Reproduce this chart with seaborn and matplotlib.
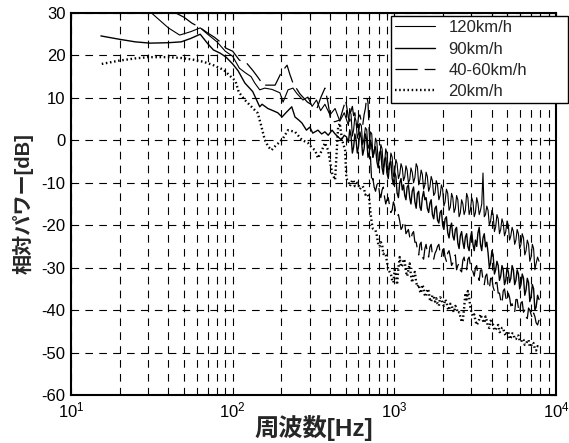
import pandas as pd
import seaborn as sns
import matplotlib
matplotlib.use("Agg")
import matplotlib.pyplot as plt

# --- data (frequency in Hz, relative power in dB) ---
# low band, each curve has its own points
freq_lo_120 = [15, 20, 25, 30, 40, 47, 55, 63, 70, 80, 90, 100, 110, 120, 130, 137, 147, 158, 175, 196,
               205, 220, 236, 250, 272, 292, 310, 330, 350, 372, 400, 430, 460, 490]
db_lo_120 = [40, 36, 33, 30.7, 26.5, 24.8, 25.6, 26.5, 25, 23.2, 21, 19.8, 17, 15.9, 15, 13.5, 11.9, 12.3, 12, 11.2,
             9.0, 11.9, 12.3, 11, 9.5, 10.2, 8, 9.5, 7, 8.5, 6, 7.5, 4.5, 6.5]

freq_lo_90 = [15.3, 20, 25, 30.8, 40, 48, 55, 63, 70, 76, 84, 91, 100, 108, 119, 133, 147, 152, 165, 175,
              190, 202, 216, 232, 243, 256, 268, 286, 300, 313, 337, 355, 372, 390, 412, 430, 449, 470, 490, 506]
db_lo_90 = [24.6, 23.8, 23.2, 22.9, 23, 23.2, 24, 25, 22.8, 21.3, 20.5, 19.6, 18, 16.4, 13.5, 11.5, 7.9, 8.5, 7.5, 7.1,
            6.5, 5.5, 6.7, 7.9, 5.5, 4.8, 4.1, 2.4, 3.1, 1.7, 2.4, 1.5, 2.0, 1.2, 2.4, 1.5, 0.8, 0.1, 1.2, 0.8]

freq_lo_4060 = [15, 25, 35, 41, 50, 56, 62, 70, 77, 85, 91, 100, 110, 122, 133, 143, 155, 170, 183, 200,
                217, 226, 236, 260, 290, 333, 350, 372, 389, 405, 430, 460, 500]
db_lo_4060 = [42, 36, 32, 30.7, 29, 27.6, 26.7, 25.3, 24.3, 23, 21.7, 21, 18.9, 18.2, 16.5, 14.9, 13, 13, 13, 16,
              17.7, 15.5, 13.5, 11, 9, 7.6, 10, 12.3, 8.8, 4.4, 4.4, 4.8, 9.5]

freq_lo_20 = [15.5, 20, 25, 30, 40, 48, 57, 66, 75, 88, 98, 104, 109, 119, 130, 143, 150, 158, 166, 174,
              185, 202, 220, 243, 268, 292, 310, 323, 337, 357, 372, 389, 412, 430, 449, 460, 475, 496, 505]
db_lo_20 = [18, 18.8, 19.3, 19.6, 19.6, 19.4, 19, 18.5, 17.8, 16.6, 14.9, 14, 11.4, 9.5, 8, 6.4, 3.5, 0.1, -1.5, -2.3,
            -1.2, 0.1, 2.4, 2.0, 0.1, -0.6, -1.8, -2.3, -4.2, -2.3, -0.6, -2.3, -7.7, -9.3, 3.1, 4, 0.1, -2.3, -9]

# high band, shared frequency bins
freq_hi = [520, 540, 560, 580, 600, 625, 650, 675, 700, 725,
           750, 780, 810, 840, 870, 900, 935, 970, 1005, 1040,
           1080, 1120, 1160, 1200, 1245, 1290, 1340, 1390, 1440, 1490,
           1545, 1600, 1660, 1720, 1785, 1850, 1920, 1990, 2060, 2140,
           2220, 2300, 2385, 2470, 2560, 2655, 2750, 2850, 2955, 3065,
           3175, 3290, 3410, 3535, 3665, 3800, 3940, 4085, 4235, 4390,
           4550, 4715, 4890, 5070, 5255, 5450, 5650, 5855, 6070, 6295,
           6525, 6765, 7010, 7270, 7535, 7850]
db_hi_120 = [3.5, 6, 2.5, 4.5, 1.5, 3.5, 0.5, 2.5, -1, 1.5,
             -3, -0.5, -4.5, -2, -5.5, -3, -6.5, -4, -7.5, -5.5,
             -8, -6.5, -8.6, -7, -9.3, -7.5, -8.8, -6.3, -9.3, -8,
             -10.5, -8.5, -11, -9.5, -12.4, -10.5, -13, -11.5, -14.5, -12.5,
             -15.7, -13.5, -16, -14, -17.1, -15, -16.5, -13.5, -16.4, -14.5,
             -17, -14.8, -16.5, -7.7, -17.5, -16.5, -19, -17.5, -20.4, -18.5,
             -21, -19.5, -21.5, -20, -22.5, -21.5, -23.5, -22, -24.5, -23,
             -26, -24.5, -27.5, -25.5, -29, -28.5]
db_hi_90 = [-0.5, 1, -1.6, 0, -1.5, 0.5, -2, 0.1, -3, -1.5,
            -2.3, -5, -3, -6.5, -4.5, -7.7, -5.5, -9, -7.5, -12.4,
            -10, -11.7, -13, -11, -13.5, -12, -14.5, -12.5, -15.7, -13.5,
            -14, -16, -14.8, -17.5, -16, -18.8, -17, -20, -18.5, -21.8,
            -20.5, -22.5, -21, -24.2, -22.5, -24, -22.8, -25, -23, -24.5,
            -23.5, -21.8, -24.5, -23, -25.1, -26.5, -28.9, -27, -30.5, -29.5,
            -32, -30.5, -33, -31, -32.5, -30.5, -33, -31.5, -34, -32.5,
            -35.3, -33.5, -36.9, -35, -39.3, -37.5]
db_hi_4060 = [5.3, 7, 5.8, 4, 5.5, 4.5, 6, 10.2, 1.7, -10,
              -11, -10.5, -12.5, -11.7, -13.4, -14, -15.5, -16.4, -15.5, -18,
              -19, -20.5, -19.5, -21.5, -22.8, -22, -24, -25.8, -24.5, -27.5,
              -25.5, -26.5, -25.1, -27, -26.6, -25, -26.5, -25.8, -27.5, -26.5,
              -27.5, -28.9, -27, -29.5, -30.6, -28.2, -29.5, -28, -29.5, -31,
              -30, -32, -30.6, -33, -32, -34, -32.5, -34.6, -33.5, -36,
              -37.6, -35.5, -37, -36, -39, -40, -37.5, -39.5, -38.3, -40.5,
              -41.6, -39.5, -41, -40.7, -43, -42.3]
db_hi_20 = [-9.8, -10.2, -9.5, -10.5, -10.5, -11, -11.5, -12.5, -14, -19.5,
            -21, -22.5, -25, -24.5, -26.5, -28.5, -31, -33, -30.5, -34,
            -27.5, -29.5, -28.5, -32, -29, -33.5, -31, -34.5, -35.5, -34,
            -36.5, -35, -37.5, -36.5, -38, -38.5, -37, -38.5, -37.5, -39.5,
            -38.5, -40, -39, -40.7, -41.5, -42.3, -36, -35.5, -39.5, -41.5,
            -42.5, -43, -41, -42.5, -41.5, -44, -42.5, -43.5, -44.5, -43.5,
            -45, -44.2, -46, -45, -46.5, -45.5, -46.8, -46, -47.5, -47,
            -48, -47, -48.5, -47.8, -49.5, -48.7]

# in-between bins of the high band (the spectra are jagged)
freq_mid = [530, 550, 570, 590, 612, 637, 662, 687, 712, 737,
            765, 795, 825, 855, 885, 917, 952, 987, 1022, 1060,
            1100, 1140, 1180, 1222, 1267, 1315, 1365, 1415, 1465, 1517,
            1572, 1630, 1690, 1752, 1817, 1885, 1955, 2025, 2100, 2180,
            2260, 2342, 2427, 2515, 2607, 2702, 2800, 2902, 3010, 3120,
            3232, 3350, 3472, 3600, 3732, 3870, 4012, 4160, 4312, 4470,
            4632, 4802, 4980, 5162, 5352, 5550, 5752, 5962, 6182, 6410,
            6645, 6887, 7140, 7402, 7692]
db_mid_120 = [7.5, 1, 5.5, 0.5, 4, -1, 3, -2, 2, -4,
              0.5, -5, -1, -6.5, -2, -7, -3, -8.5, -4.5, -9,
              -5.5, -9.5, -6, -10, -6.5, -10, -5.5, -10.5, -7, -11.5,
              -7.5, -12, -8.5, -13, -9.5, -14, -10.5, -15.5, -11.5, -16.5,
              -12.5, -17, -13, -18, -14, -17.5, -12.5, -17.5, -13.5, -18,
              -13.5, -17.5, -15, -18, -15.5, -20, -16.5, -21.5, -17.5, -22,
              -18.5, -22.5, -19, -23.5, -20.5, -24.5, -21, -25.5, -22, -27,
              -23.5, -28.5, -24.5, -30.5, -27.5]
db_mid_90 = [2.5, -3, 1.5, -3, 2, -3.5, 1.5, -4, 0, -4,
             -1.5, -6.5, -2.5, -8, -4, -9, -5, -10.5, -8.5, -13.5,
             -9, -10.5, -14, -10.5, -15, -11, -16, -12, -16.5, -12,
             -13.5, -17, -14, -18.5, -15.5, -19.5, -16.5, -21, -18, -23,
             -19.5, -23.5, -20.5, -25.5, -21.5, -25.5, -22, -26, -21.5, -26,
             -25, -20.5, -26, -22, -24, -30, -26, -31.5, -28.5, -33,
             -29.5, -34, -30, -33.5, -29.5, -34, -30.5, -35, -31.5, -36.5,
             -32.5, -38, -34, -40, -36.5]
db_mid_4060 = [4.5, 8, 6.5, 3, 6, 3.5, 7.5, 9, -4, -9,
               -12, -10, -13.5, -11, -15, -13.5, -17, -14.5, -17.5, -17.5,
               -21, -19, -22, -21, -23.5, -21.5, -24, -27, -24, -28,
               -24.5, -27.5, -24.5, -28, -26, -24.5, -27.5, -25.5, -28.5, -26,
               -29.5, -27.5, -30.5, -29, -31, -27.5, -30.5, -27.5, -30, -32,
               -29.5, -33, -30.5, -34, -31.5, -35, -32.5, -35.5, -33.5, -36,
               -38.5, -35, -38, -37, -38.5, -40.5, -37.5, -40.5, -38, -40,
               -42, -40, -42, -41.5, -43.5]
db_mid_20 = [-10.8, -9.3, -10.8, -10, -11.5, -10.8, -12.8, -13, -17, -20.8,
             -21.2, -24.5, -24, -26.8, -27, -30.5, -31.5, -33.5, -31.5, -30,
             -29.8, -28, -31, -30.5, -31.8, -31.5, -33.5, -34, -36, -34.8,
             -36.8, -35.5, -38, -36.8, -37.2, -39, -37.2, -39, -38, -40,
             -38.8, -40.5, -39.5, -40.5, -42.8, -39.5, -37.5, -37, -40.8, -41,
             -43.5, -42.2, -41.8, -43, -42.5, -44.2, -42.8, -44.8, -43.8, -45.2,
             -44.2, -45.5, -45.2, -46.8, -45.5, -46.8, -46, -47.2, -46.8, -48.2,
             -47.2, -48.6, -47.6, -49.2, -48.5]

labels = ['120km/h', '90km/h', '40-60km/h', '20km/h']
y_ticks = [-60, -50, -40, -30, -20, -10, 0, 10, 20, 30]

sns.set_theme(style='white')
plt.rcParams['font.family'] = ['Liberation Sans', 'Noto Sans CJK JP', 'DejaVu Sans']
plt.rcParams['axes.unicode_minus'] = False
plt.rcParams['lines.scale_dashes'] = False

series = [(freq_lo_120, db_lo_120, db_hi_120, db_mid_120, 0.8, '-'),
          (freq_lo_90, db_lo_90, db_hi_90, db_mid_90, 1.0, '-'),
          (freq_lo_4060, db_lo_4060, db_hi_4060, db_mid_4060, 0.9, (0, (16, 5))),
          (freq_lo_20, db_lo_20, db_hi_20, db_mid_20, 1.7, (0, (1.1, 1.9)))]

fig = plt.figure(figsize=(5.69, 4.43), dpi=100)
ax = fig.add_axes([71 / 569, 48 / 443, 485 / 569, 382 / 443])

for (f_lo, v_lo, v_hi, v_mid, lw, ls), lab in zip(series, labels):
    assert len(f_lo) == len(v_lo), lab
    assert len(freq_hi) == len(v_hi) and len(freq_mid) == len(v_mid), lab
    df = pd.DataFrame({'freq': f_lo + freq_hi + freq_mid, 'db': v_lo + v_hi + v_mid})
    df = df.sort_values('freq')
    sns.lineplot(data=df, x='freq', y='db', ax=ax, color='black', lw=lw,
                 linestyle=ls, label=lab, sort=False, estimator=None)

ax.set_xscale('log')
ax.set_xlim(10, 1e4)
ax.set_ylim(-60, 30)
ax.set_yticks(y_ticks)
grid_ls = (0, (5.5, 4.5))
ax.grid(True, which='both', axis='x', color='black', lw=0.8, linestyle=grid_ls)
ax.grid(True, which='major', axis='y', color='black', lw=0.8, linestyle=grid_ls)
ax.tick_params(which='both', direction='in', top=True, right=True, colors='black',
               labelsize=12, width=0.8)
ax.tick_params(which='major', length=4, pad=4)
ax.tick_params(which='minor', length=2.5)
for sp in ax.spines.values():
    sp.set_color('black')
    sp.set_linewidth(1.5)

lab_font = ['Liberation Sans', 'Noto Sans CJK JP']
ax.set_xlabel('周波数[Hz]', family=lab_font, fontweight='bold', fontsize=17.5)
ax.set_ylabel('相対パワー[dB]', family=lab_font, fontweight='bold', fontsize=14.5)
ax.xaxis.set_label_coords(0.5, -0.052)
ax.yaxis.set_label_coords(-0.078, 0.5)

leg = ax.legend(loc='upper left', bbox_to_anchor=(391 / 569, 0, 177 / 569, 1 - 16 / 443),
                bbox_transform=fig.transFigure, mode='expand', frameon=True, fancybox=False,
                edgecolor='black', framealpha=1, fontsize=12, handlelength=2.4,
                handletextpad=0.8, borderpad=0.25, labelspacing=0.38, borderaxespad=0)
leg.get_frame().set_linewidth(1.0)

fig.savefig('out.png', dpi=100)
